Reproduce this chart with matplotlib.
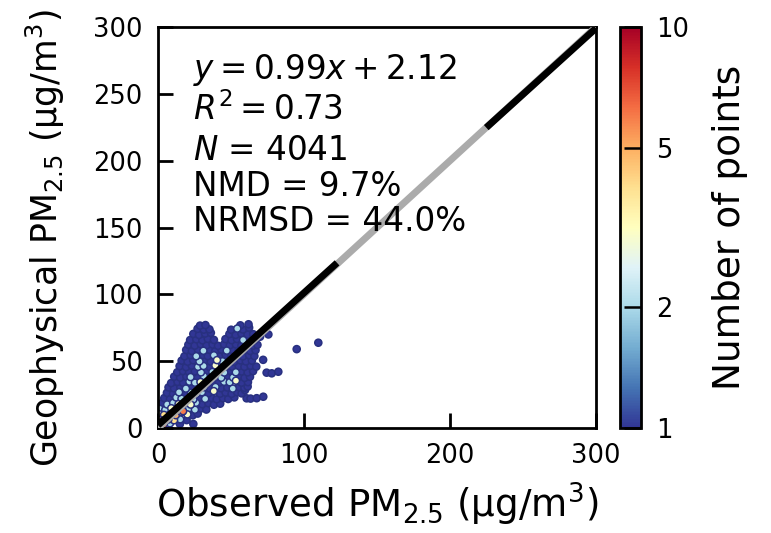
import numpy as np
import matplotlib
matplotlib.use("Agg")
import matplotlib.pyplot as plt
from matplotlib.colors import LogNorm
from matplotlib.ticker import NullLocator, FixedLocator, FixedFormatter

# ---------------- data ----------------
obs_pm25 = [
    1.0, 4.0, 8.2, 15.0, 24.2,
    0.8, 3.6, 7.1, 11.0, 15.2, 19.6,
    0.6, 4.1, 8.4, 12.2, 16.3, 20.1, 23.8, 27.2,
    1.2, 5.0, 9.1, 13.3, 17.2, 21.0, 25.3, 29.4, 33.1,
    2.6, 6.3, 10.4, 14.1, 18.2, 22.4, 26.1, 30.2, 34.5, 38.3, 42.6,
    4.3, 8.2, 12.5, 16.1, 20.4, 24.2, 28.5, 32.3, 36.6, 40.2, 44.5, 48.1, 52.3, 60.7, 63.4, 67.6, 72.1,
    6.1, 10.3, 14.4, 18.2, 22.5, 26.3, 30.1, 34.4, 38.2, 42.5, 46.3, 50.4, 54.2, 57.3, 59.6,
    7.2, 11.0, 15.3, 19.1, 23.4, 27.2, 31.5, 35.3, 39.4, 43.1, 47.5, 51.2, 55.4, 59.2, 61.4,
    9.0, 13.4, 17.2, 21.5, 25.3, 29.1, 33.4, 37.2, 41.5, 45.3, 49.1, 53.4, 57.2, 61.6,
    11.1, 15.2, 19.4, 22.3, 27.1, 31.4, 35.2, 39.5, 43.3, 47.1, 51.4, 55.2, 59.3, 63.0,
    13.2, 17.1, 21.3, 25.2, 29.4, 33.1, 37.3, 41.2, 45.4, 49.1, 53.3, 57.2, 61.4, 65.1, 74.4, 77.9, 82.4,
    14.8, 19.2, 23.1, 27.4, 31.2, 35.5, 39.3, 43.2, 47.4, 51.1, 55.3, 59.2, 63.4, 67.3,
    16.2, 20.3, 24.1, 28.4, 32.2, 36.1, 40.4, 44.2, 48.3, 52.1, 56.4, 60.2, 64.3, 72.0,
    18.1, 22.3, 26.2, 30.4, 34.1, 38.3, 42.2, 46.4, 50.1, 54.3, 58.2, 62.4, 66.0,
    19.3, 23.2, 27.4, 31.1, 35.3, 39.2, 43.4, 47.1, 51.3, 55.2, 59.4, 63.1, 66.8, 95.0,
    20.8, 25.1, 29.3, 33.2, 37.4, 41.1, 45.3, 49.2, 53.4, 57.1, 61.3, 65.2, 68.1, 109.8,
    22.0, 26.2, 30.4, 34.1, 38.3, 46.2, 50.4, 54.1, 58.3, 62.2, 66.1, 69.9,
    24.2, 28.1, 32.3, 36.2, 48.9, 53.2, 57.1, 61.3, 65.2, 75.6,
    27.1, 31.3, 35.2, 50.1, 54.3, 58.2, 62.4,
    28.8, 32.5, 56.4, 62.0,
]
geo_pm25 = [
    1.5, 2.8, 3.5, 3.0, 3.0,
    6.2, 5.5, 6.4, 5.8, 6.5, 5.9,
    10.4, 9.8, 10.5, 9.6, 11.8, 10.2, 9.5, 10.8,
    14.3, 13.6, 14.8, 13.9, 12.6, 14.5, 13.7, 14.6, 13.8,
    18.5, 17.6, 18.8, 17.9, 18.4, 17.5, 18.9, 17.8, 18.6, 17.4, 18.2,
    22.4, 21.6, 22.8, 21.9, 22.5, 21.4, 22.7, 21.8, 22.6, 21.5, 22.3, 21.7, 22.9, 22.2, 22.0, 22.3, 23.4,
    26.3, 25.6, 26.7, 25.8, 26.4, 25.5, 26.8, 25.9, 27.6, 25.7, 26.5, 25.6, 26.8, 25.9, 28.4,
    30.4, 29.7, 30.6, 29.5, 30.8, 29.9, 30.5, 29.6, 30.7, 29.8, 30.3, 29.5, 30.6, 30.1, 31.0,
    33.6, 34.5, 33.8, 34.7, 33.9, 34.4, 33.5, 34.8, 33.7, 34.6, 34.2, 35.4, 33.9, 34.3,
    38.4, 37.7, 38.6, 38.1, 37.6, 38.8, 37.9, 38.5, 37.6, 38.7, 37.8, 38.4, 37.5, 38.3,
    41.7, 42.6, 41.8, 42.4, 41.6, 42.7, 41.9, 42.5, 41.5, 42.8, 41.7, 42.3, 41.6, 42.5, 41.4, 40.9, 42.1,
    46.3, 45.6, 46.7, 45.8, 46.4, 45.5, 46.8, 45.9, 46.5, 45.6, 46.2, 45.8, 46.6, 45.9,
    50.4, 49.6, 50.7, 49.8, 50.5, 49.7, 50.8, 49.9, 50.3, 49.5, 50.6, 49.8, 50.4, 51.0,
    53.6, 54.5, 53.7, 54.6, 53.8, 54.4, 53.5, 54.7, 53.9, 54.3, 53.6, 54.5, 53.8,
    58.4, 57.6, 58.6, 57.8, 58.5, 57.5, 58.7, 57.9, 58.3, 57.6, 58.5, 57.7, 58.2, 59.0,
    62.3, 61.6, 62.7, 61.8, 62.4, 61.5, 62.6, 61.9, 62.5, 61.7, 62.8, 61.6, 62.2, 63.8,
    65.8, 66.4, 65.6, 66.7, 65.9, 66.5, 65.7, 66.6, 65.8, 66.4, 65.6, 68.3,
    70.4, 69.6, 70.7, 71.2, 70.3, 69.7, 70.6, 69.8, 70.2, 70.0,
    74.2, 73.6, 73.8, 73.5, 74.4, 73.7, 75.1,
    76.6, 77.0, 76.8, 77.6,
]
n_points = [
    8, 6, 2, 1, 1,
    5, 10, 7, 4, 2, 1,
    3, 4, 6, 5, 5, 3, 1, 1,
    2, 2, 3, 4, 6, 2, 2, 1, 1,
    1, 2, 2, 3, 2, 3, 2, 1, 1, 1, 1,
    1, 1, 2, 2, 1, 2, 1, 2, 1, 1, 1, 1, 1, 1, 1, 1, 1,
    1, 1, 2, 1, 2, 2, 2, 1, 3, 1, 1, 1, 1, 1, 1,
    1, 1, 1, 2, 1, 2, 2, 1, 2, 1, 1, 2, 1, 1, 1,
    1, 1, 1, 2, 2, 3, 2, 1, 1, 2, 2, 3, 1, 1,
    1, 1, 1, 2, 1, 2, 1, 2, 2, 1, 2, 1, 1, 1,
    1, 1, 1, 1, 2, 1, 2, 1, 2, 1, 2, 1, 1, 1, 1, 1, 1,
    1, 1, 1, 2, 2, 1, 3, 2, 1, 1, 1, 1, 1, 1,
    1, 1, 1, 2, 1, 1, 3, 2, 1, 1, 1, 1, 1, 1,
    1, 1, 2, 1, 1, 2, 1, 1, 1, 1, 1, 1, 1,
    1, 1, 1, 2, 1, 1, 1, 2, 1, 1, 1, 1, 1, 1,
    1, 1, 1, 1, 1, 1, 1, 1, 1, 1, 1, 1, 1, 1,
    1, 1, 1, 1, 1, 1, 1, 1, 2, 1, 1, 1,
    1, 1, 1, 1, 1, 1, 1, 1, 1, 1,
    1, 1, 1, 1, 2, 1, 1,
    1, 1, 1, 1,
]

fit_slope = 0.99
fit_intercept = 2.12
stats_lines = [r"$y = 0.99x + 2.12$", r"$R^2 = 0.73$", r"$N$ = 4041",
               "NMD = 9.7%", "NRMSD = 44.0%"]
axis_limits = [0, 300]
x_ticks = [0, 100, 200, 300]
y_ticks = [0, 50, 100, 150, 200, 250, 300]
cbar_ticks = [1, 2, 5, 10]
cbar_ticklabels = ["1", "2", "5", "10"]

# ---------------- figure ----------------
W, H = 771, 533
fig = plt.figure(figsize=(W / 100, H / 100), dpi=100)
ax = fig.add_axes([158 / W, 1 - 428 / H, 438 / W, 401 / H])
cax = fig.add_axes([620 / W, 1 - 428 / H, 21 / W, 401 / H])

x = np.asarray(obs_pm25)
y = np.asarray(geo_pm25)
c = np.asarray(n_points)
order = np.argsort(c, kind="stable")

sc = ax.scatter(x[order], y[order], c=c[order], cmap="RdYlBu_r",
                norm=LogNorm(vmin=1, vmax=10), s=26,
                edgecolors="#283080", linewidths=1.1, zorder=2)

lims = np.asarray(axis_limits, dtype=float)
ax.plot(lims, lims, color="#ababab", lw=5, zorder=3, solid_capstyle="butt")
lw = 5
ax.plot(lims, fit_slope * lims + fit_intercept, color="black", lw=lw,
        linestyle=(0, (174 / lw, 145 / lw)), dash_capstyle="butt", zorder=4)

ax.set_xlim(axis_limits)
ax.set_ylim(axis_limits)
ax.set_xticks(x_ticks)
ax.set_yticks(y_ticks)
ax.tick_params(direction="in", length=11, width=2, labelsize=18.5, pad=11,
               top=False, right=False)
for s in ax.spines.values():
    s.set_linewidth(2)

ypos = [0.893, 0.793, 0.693, 0.601, 0.514]
for txt, yy in zip(stats_lines, ypos):
    ax.text(0.08, yy, txt, transform=ax.transAxes, fontsize=23.5,
            ha="left", va="center", zorder=5)

ax.set_xlabel(r"Observed PM$_{2.5}$ (µg/m$^3$)", fontsize=26.8)
ax.set_ylabel(r"Geophysical PM$_{2.5}$ (µg/m$^3$)", fontsize=25)
ax.xaxis.set_label_coords(0.5, -0.132)
ax.yaxis.set_label_coords(-0.207, 0.5)

cbar = fig.colorbar(sc, cax=cax)
cax.yaxis.set_major_locator(FixedLocator(cbar_ticks))
cax.yaxis.set_major_formatter(FixedFormatter(cbar_ticklabels))
cax.yaxis.set_minor_locator(NullLocator())
cax.tick_params(direction="in", length=12, width=1.8, labelsize=18.5, pad=11)
cbar.outline.set_linewidth(2)
cbar.set_label("Number of points", fontsize=27)
cax.yaxis.set_label_coords(4.4, 0.5)

# keep the y label inside the canvas, with its lower end where the reference has it
fig.canvas.draw()
bb = ax.yaxis.label.get_window_extent()
ref_bottom_px = H - 467
shift = ref_bottom_px - bb.y0
if bb.y1 + shift > H - 2:
    shift = (H - 2) - bb.y1
lab_x, lab_y = ax.yaxis.label.get_position()
ax_h_px = ax.get_window_extent().height
ax.yaxis.set_label_coords(-0.207, 0.5 + shift / ax_h_px)

fig.savefig("out.png", dpi=100)
